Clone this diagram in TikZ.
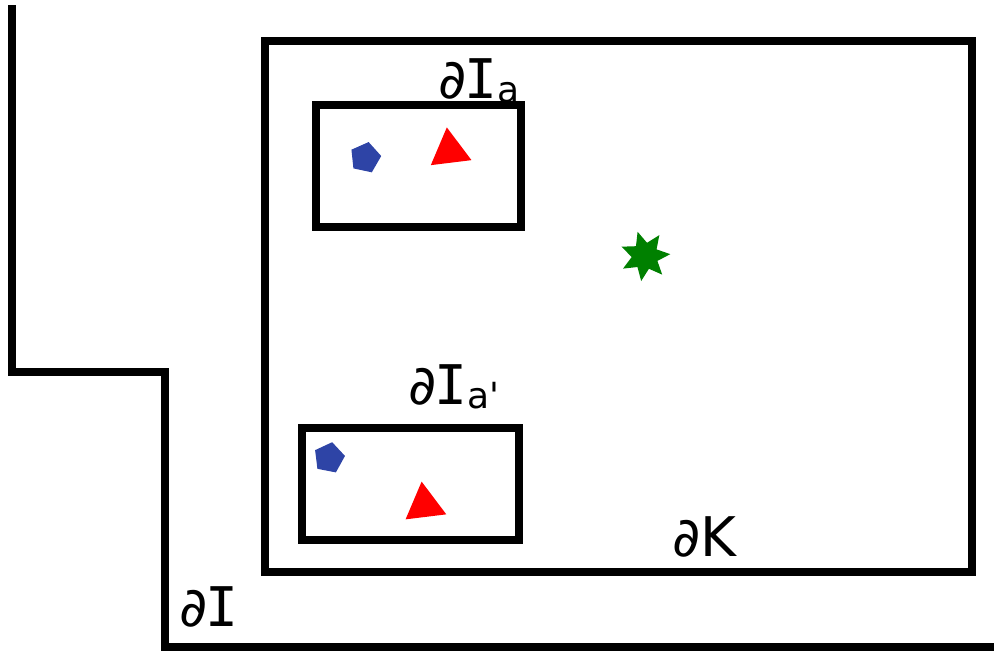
\documentclass[tikz,border=0pt]{standalone}
\usepackage{fontspec}
\newfontfamily\labelfont{DejaVu Sans}
\newfontfamily\serifI{DejaVu Sans Mono}
\usetikzlibrary{shapes.geometric}
\tikzset{
    wall/.style={line width=5.4pt, line join=miter},
    bdlabel/.style={inner sep=0pt, anchor=base west, font=\labelfont\fontsize{41}{41}\selectfont},
    pent/.style={regular polygon, regular polygon sides=5, draw=none, inner sep=0pt, minimum size=24pt},
    tri/.style={regular polygon, regular polygon sides=3, fill=red, draw=none, inner sep=0pt, minimum size=35.5pt, rotate=7}
}
\definecolor{pentblue}{HTML}{2E44A6}
\newcommand{\bdI}{{\serifI\hspace{-1.5pt}I}}
\newcommand{\subx}[1]{\raisebox{-3pt}{\fontsize{27}{27}\selectfont #1}}

\begin{document}
\begin{tikzpicture}[x=0.75pt, y=-0.75pt]
        \useasboundingbox (0,0) rectangle (994,650);

        % outer boundary dI
        \coordinate (i1) at (12,5);
        \coordinate (i2) at (12,372);
        \coordinate (i3) at (165,372);
        \coordinate (i4) at (165,647);
        \coordinate (i5) at (994,647);
        \draw[wall] (i1) -- (i2) -- (i3) -- (i4) -- (i5);
        \node[bdlabel] (lblI) at (179,626) {∂\bdI};

        % K
        \draw[wall] (265,41) rectangle (972,572);
        \node[bdlabel] (lblK) at (672,556) {∂K};
        \node[star, star points=7, star point ratio=1.9, fill=black!50!green, draw=none,
              inner sep=0pt, minimum size=38pt, rotate=17] (centre) at (645,256) {};

        % I_a
        \draw[wall] (316,105) rectangle (521,227);
        \node[bdlabel] (lblA) at (438,98) {∂\bdI\subx{a}};
        \node[pent, fill=pentblue, rotate=-12] (pentA) at (365.3,157.7) {};
        \node[tri] (triA) at (449.7,150.9) {};

        % I_a'
        \draw[wall] (302,428) rectangle (519,540);
        \node[bdlabel] (lblB) at (408,404) {∂\bdI\subx{a'}};
        \node[pent, fill=pentblue, rotate=-11] (pentB) at (329.1,457.9) {};
        \node[tri] (triB) at (424.5,505.1) {};
    \end{tikzpicture}
\end{document}
